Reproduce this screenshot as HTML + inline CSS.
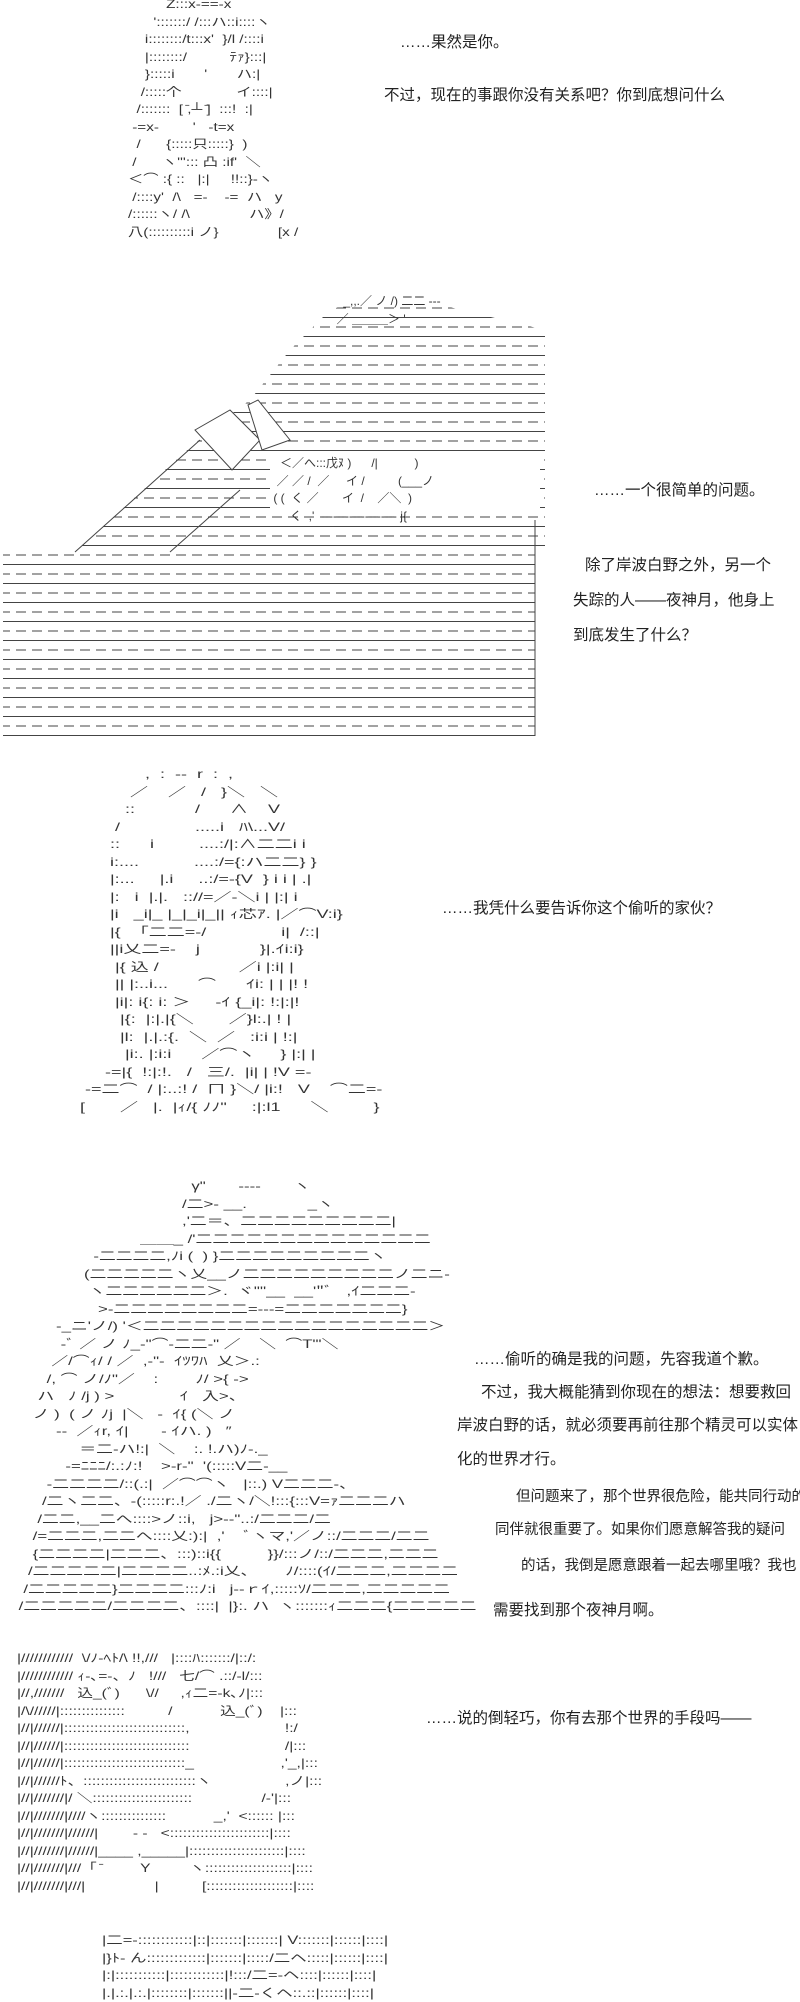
<!DOCTYPE html>
<html><head><meta charset="utf-8"><style>
html,body{margin:0;padding:0;background:#fff;}
body{width:800px;height:2000px;position:relative;overflow:hidden;font-family:"Liberation Sans","Noto Sans CJK SC",sans-serif;color:#222;}
.aa{position:absolute;white-space:pre;font-size:12px;line-height:17.5px;color:#333;letter-spacing:0px;font-family:"Liberation Sans","Noto Sans CJK JP",sans-serif;transform-origin:0 0;}
.t{position:absolute;white-space:nowrap;font-size:15.5px;color:#222;font-family:"Liberation Sans","Noto Sans CJK SC",sans-serif;}
svg{position:absolute;left:0;top:0;}
</style></head><body>

<div class="aa" style="left:128px;top:-4px;transform:scaleX(1.27);">         Z:::x‐==‐x
      ':::::::/ /:::ハ::i::::ヽ
    i::::::::/t:::x'  }/l /::::i
    |::::::::/          ﾃｧ}:::|
    }:::::i       '       ハ:|
   /:::::个             イ::::|
  /:::::::  [ ̄,┴ ̄]  :::!  :|
 ‐=x‐        '   ‐t=x
  /      {:::::只:::::}  )
 /      ヽ'''::: 凸 :if'  ＼
＜⌒ :{ ::   |:|     !!::}‐ヽ
 /::::y'  /\   =‐    ‐=  ハ   y
/::::::ヽ/ /\              ハ》/
八(::::::::::i ノ}              [x /</div>
<div class="t" style="left:400px;top:30px;">……果然是你。</div>
<div class="t" style="left:384px;top:83px;">不过，现在的事跟你没有关系吧？你到底想问什么</div>

<svg width="800" height="2000">
<defs>
<pattern id="st" width="16" height="19" patternUnits="userSpaceOnUse">
<line x1="0" y1="4" x2="16" y2="4" stroke="#444" stroke-width="1" stroke-dasharray="10 6"/>
<line x1="0" y1="13.5" x2="16" y2="13.5" stroke="#444" stroke-width="1"/>
</pattern>
</defs>
<rect x="3" y="552" width="532" height="184" fill="url(#st)"/>
<polygon points="75,552 165,470 210,430 250,400 290,350 330,310 360,300 420,300 545,330 545,552" fill="url(#st)"/>
<polygon points="195,430 230,410 260,440 232,470" fill="#fff" stroke="#444"/>
<polygon points="248,405 258,400 290,440 262,450" fill="#fff" stroke="#444"/>
<g stroke="#444" fill="none">
<line x1="535" y1="520" x2="535" y2="736"/>
<line x1="75" y1="552" x2="200" y2="440"/>
<line x1="170" y1="552" x2="240" y2="490"/>
</g>
<rect x="270" y="455" width="270" height="55" fill="#fff"/>
</svg>
<div class="aa" style="left:270px;top:455px;">   ＜／へ:::戊ﾇ )      /|           )
  ／ ／ /  ／     イ /          (___ノ
 ( (  く ／       イ  /    ／＼  )
      く  ,'  ‐‐‐‐‐‐‐‐‐‐‐‐‐‐‐‐‐‐‐ j{</div>
<div class="aa" style="left:330px;top:293px;font-size:12px;">    _,,.／ ノ /) 二二 ‐‐‐
  ／ ＿＿＿＞ '</div>
<div class="t" style="left:594px;top:478px;">……一个很简单的问题。</div>
<div class="t" style="left:585px;top:553px;">除了岸波白野之外，另一个</div>
<div class="t" style="left:573px;top:588px;">失踪的人——夜神月，他身上</div>
<div class="t" style="left:573px;top:623px;">到底发生了什么？</div>

<div class="aa" style="left:75px;top:766px;transform:scaleX(1.5);">              ,  :  ‐‐  r  :  ,
           ／    ／   /   }＼   ＼
          ::            /      ∧    V
        /               .....i   ﾊ\...V/
       ::      i         ....:/|:∧二二i i
       i:....           ....:/={:ハ二二} }
       |:...     |.i     ..:/=‐{V  } i i | .|
       |:   i  |.|.   :://=／‐＼i | |:| i
       |i   _i|_ |_|_i|_|| ｨ芯ｱ. |／⌒V:i}
       |{  「二二=‐/               i|  /::|
       ||i乂二=‐    j            }|.ｲi:i}
        |{ 込 /                ／i |:i| |
        || |:..i...      ⌒      ｲi: | | |! !
        |i|: i{: i: ＞     ‐ｲ {_i|: !:|:|!
         |{:  |:|.|{＼       ／}l:.| ! |
         |l:  |.|.:{.  ＼  ／   :i:i | !:|
          |i:. |:i:i      ／⌒ヽ     } |:| |
      ‐=|{  !:|:!.   /   三/.  |i| | !V =‐
  ‐=二⌒  / |:..:! /  ㄇ }＼/ |i:!   V    ⌒二=‐
 [       ／   |.  |ｨ/{ ﾉﾉ"     :|:l1      ＼         }</div>
<div class="t" style="left:442px;top:896px;">……我凭什么要告诉你这个偷听的家伙？</div>

<div class="aa" style="left:0px;top:1178px;transform:scaleX(1.4);">                                         γ"       ‐‐‐‐       ヽ
                                       /二>‐ __.             _ヽ
                                       ,'二＝、二二二二二二二二二|
                              ＿＿_ /'二二二二二二二二二二二二二二
                    ‐二二二二,ﾉi (  ) }二二二二二二二二二ヽ
                  (二二二二二ヽ乂__ノ二二二二二二二二二ノ二ニ‐
                   ヽ二二二二二二＞.  ヾ"''__  __'"ﾞ   ,ｲ二二二‐
                     >‐二二二二二二二二=‐‐‐=二二二二二二二}
            ‐_ニ'ノ/) '＜二二二二二二二二二二二二二二二二二＞
             ‐ﾞ ／ ノ ﾉ_‐"⌒‐二二‐" ／    ＼  ⌒T"'＼
           ／/⌒ｨ/ / ／  ,‐"‐  ｲﾂﾜﾊ  乂＞.:
          /, ⌒ ノ/ﾉ"／    :        ﾉ/ >{ ‐>
        ハ   ﾉ /j ) >              ｲ   入>、
       ノ )  ( ノ ﾉj  |＼   ‐  ｲ{ (＼ ノ
            ‐‐  ／ｨr, ｲ|       ‐ ｲハ. )   ″
                 ＝二‐ハ!:|  ＼    :. !.ハ)ﾉ‐._
              ‐=ﾆﾆﾆ/:.:ﾉ:!    >‐r‐"  '(:::::V二‐__
          ‐二二二二/::(.:|  ／⌒⌒ヽ   |::.) V二二二‐、
         /二ヽ二二、‐(:::::r:.!／ ./二ヽ/＼!:::{:::V=ｧ二二二ハ
        /二二,__二へ::::>ノ::i,   j>‐‐<!  .i::::>"..:/二二二/二
       /=二二二,二二へ::::乂:):|  ,'    ﾞヽマ,'／ノ::/二二二/二二
       {二二二二|二二二、:::)::i{{          }}/:::ノ/::/二二二,二二二
      /二二二二二|二二二二..:ﾒ.:i乂、      ﾉ/::::(ｲ/二二二,二二二二
     /二二二二二}二二二二:::ﾉ:i   j‐‐ｒｲ,:::::ｿ/二二二,二二二二二
    /二二二二二/二二二二、::::|  |}:. ハ  ヽ:::::::ｨ二二二{二二二二二</div>
<div class="t" style="left:474px;top:1347px;">……偷听的确是我的问题，先容我道个歉。</div>
<div class="t" style="left:481px;top:1380px;">不过，我大概能猜到你现在的想法：想要救回</div>
<div class="t" style="left:457px;top:1413px;">岸波白野的话，就必须要再前往那个精灵可以实体</div>
<div class="t" style="left:457px;top:1447px;">化的世界才行。</div>
<div class="t" style="left:516px;top:1485px;font-size:14.5px;">但问题来了，那个世界很危险，能共同行动的</div>
<div class="t" style="left:495px;top:1518px;font-size:14.5px;">同伴就很重要了。如果你们愿意解答我的疑问</div>
<div class="t" style="left:521px;top:1554px;font-size:14.5px;">的话，我倒是愿意跟着一起去哪里哦？我也</div>
<div class="t" style="left:493px;top:1598px;">需要找到那个夜神月啊。</div>

<div class="aa" style="left:17px;top:1650px;transform:scaleX(1.3);">|////////////  \/ﾉ‐ﾍﾄ/\ !!,///   |::::ﾊ:::::::/|::/:
|//////////// ｨ‐､=‐、ﾉ   !///   七/⌒ .::/‐l/:::
|//,///////   込_(ﾞ)      \//     ,ｨ二=‐k､ﾉ|:::
|/\//////|:::::::::::::::          /           込_(ﾞ)    |:::
|//|//////|::::::::::::::::::::::::::::,                      !:/
|//|//////|:::::::::::::::::::::::::::::                      /|:::
|//|//////|::::::::::::::::::::::::::::_                    ,'_,|:::
|//|//////ﾄ、::::::::::::::::::::::::::ヽ                 ,ノ|:::
|//|///////|/ ＼:::::::::::::::::::::::                /‐'|:::
|//|///////|////ヽ:::::::::::::::           _,'  <:::::: |:::
|//|///////|//////|        ‐ ‐   <:::::::::::::::::::::::|::::
|//|///////|//////|____ ,_____|::::::::::::::::::::::|::::
|//|///////|///「 ̄         Y         ヽ::::::::::::::::::::|::::
|//|///////|///|                |          [::::::::::::::::::::|::::</div>
<div class="t" style="left:426px;top:1706px;">……说的倒轻巧，你有去那个世界的手段吗——</div>

<div class="aa" style="left:102px;top:1932px;transform:scaleX(1.37);">|二=‐::::::::::::|::|:::::::|:::::::| V:::::::|::::::|::::|
|}ﾄ‐ ん:::::::::::::|:::::::|:::::/二ヘ:::::|::::::|::::|
|:|:::::::::::|::::::::::::|!:::/二=‐ヘ::::|::::::|::::|
|.|.:.|.:.|::::::::|:::::::||‐二‐くヘ::.::|::::::|::::|</div>
</body></html>
